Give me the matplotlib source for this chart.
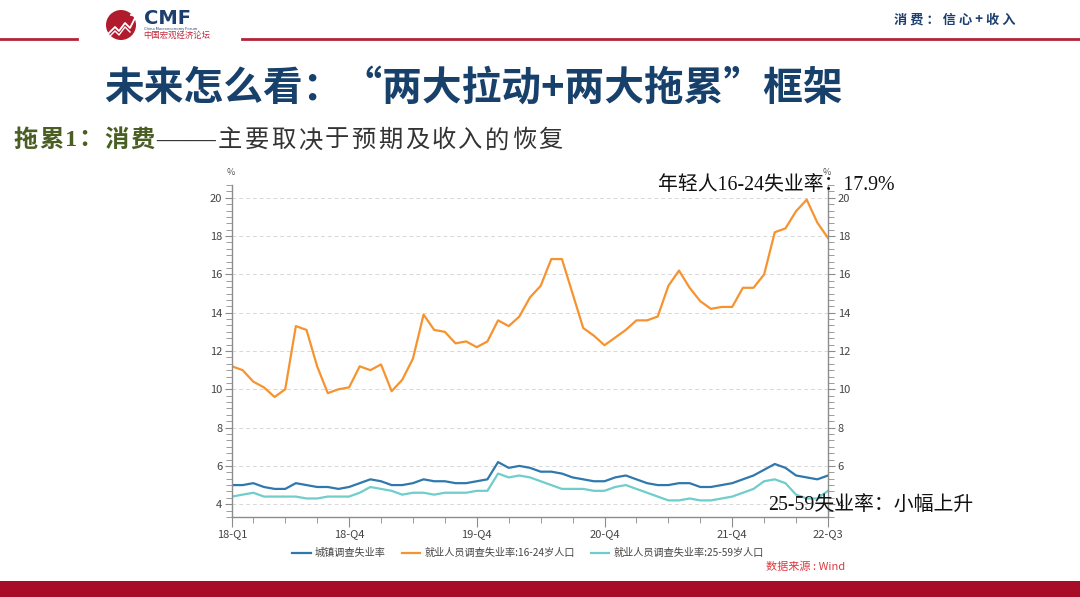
import numpy as np
import pandas as pd
import matplotlib
matplotlib.use("Agg")
import matplotlib.pyplot as plt
from matplotlib.patches import Circle, Rectangle
from matplotlib.ticker import FixedLocator, MultipleLocator

plt.rcParams['font.family'] = ['Noto Sans CJK SC', 'DejaVu Sans']

# data, monthly 2018-01 .. 2022-09 (%)
months = pd.period_range('2018-01', '2022-09', freq='M')
urban = [5.0, 5.0, 5.1, 4.9, 4.8, 4.8, 5.1, 5.0, 4.9, 4.9, 4.8, 4.9,
         5.1, 5.3, 5.2, 5.0, 5.0, 5.1, 5.3, 5.2, 5.2, 5.1, 5.1, 5.2,
         5.3, 6.2, 5.9, 6.0, 5.9, 5.7, 5.7, 5.6, 5.4, 5.3, 5.2, 5.2,
         5.4, 5.5, 5.3, 5.1, 5.0, 5.0, 5.1, 5.1, 4.9, 4.9, 5.0, 5.1,
         5.3, 5.5, 5.8, 6.1, 5.9, 5.5, 5.4, 5.3, 5.5]
youth = [11.2, 11.0, 10.4, 10.1, 9.6, 10.0, 13.3, 13.1, 11.2, 9.8, 10.0, 10.1,
         11.2, 11.0, 11.3, 9.9, 10.5, 11.6, 13.9, 13.1, 13.0, 12.4, 12.5, 12.2,
         12.5, 13.6, 13.3, 13.8, 14.8, 15.4, 16.8, 16.8, 15.0, 13.2, 12.8, 12.3,
         12.7, 13.1, 13.6, 13.6, 13.8, 15.4, 16.2, 15.3, 14.6, 14.2, 14.3, 14.3,
         15.3, 15.3, 16.0, 18.2, 18.4, 19.3, 19.9, 18.7, 17.9]
prime = [4.4, 4.5, 4.6, 4.4, 4.4, 4.4, 4.4, 4.3, 4.3, 4.4, 4.4, 4.4,
         4.6, 4.9, 4.8, 4.7, 4.5, 4.6, 4.6, 4.5, 4.6, 4.6, 4.6, 4.7,
         4.7, 5.6, 5.4, 5.5, 5.4, 5.2, 5.0, 4.8, 4.8, 4.8, 4.7, 4.7,
         4.9, 5.0, 4.8, 4.6, 4.4, 4.2, 4.2, 4.3, 4.2, 4.2, 4.3, 4.4,
         4.6, 4.8, 5.2, 5.3, 5.1, 4.5, 4.3, 4.3, 4.7]
series_names = ['城镇调查失业率', '就业人员调查失业率:16-24岁人口', '就业人员调查失业率:25-59岁人口']
series_colors = ['#2f78ad', '#f7932f', '#6fcdcb']
label_months = ['2018-01', '2018-12', '2019-12', '2020-12', '2021-12', '2022-09']
tick_labels = ['18-Q1', '18-Q4', '19-Q4', '20-Q4', '21-Q4', '22-Q3']

W, H = 1080, 597
fig = plt.figure(figsize=(W / 100, H / 100), dpi=100)
fig.patch.set_facecolor('white')


def spaced(x, y, s, adv, **kw):
    # letter-spaced text, one char at a time (x, y in pixels from top-left)
    for ch in s:
        fig.text(x / W, 1 - y / H, ch, va='center', **kw)
        x += adv * (0.5 if ord(ch) < 128 else 1.0)


# page decoration in pixel coords
bg = fig.add_axes([0, 0, 1, 1], zorder=0)
bg.set_xlim(0, W)
bg.set_ylim(H, 0)
bg.axis('off')
red = '#b3243b'
bg.plot([0, 77], [39, 39], color=red, lw=2)
bg.plot([242, W], [39, 39], color=red, lw=2)
bg.add_patch(Rectangle((0, 581), W, 16, color='#a80c28', lw=0))
bg.add_patch(Circle((121, 25), 15, color='#b01c2e', lw=0))
bg.plot([109, 115, 119, 125, 130, 136], [33, 27, 31, 23, 28, 16], color='white', lw=1.3)
bg.plot([109, 115, 119, 125, 130], [37, 31, 35, 27, 32], color='white', lw=1.0)
bg.plot([131, 136, 137], [15, 16, 21], color='white', lw=1.3)

fig.text(144 / W, 1 - 18 / H, 'CMF', fontsize=14, fontweight='bold', color='#1d3f6e',
         va='center', family='DejaVu Sans')
fig.text(144 / W, 1 - 29 / H, 'China Macroeconomy Forum', fontsize=2.8, color='#1d3f6e', va='center')
fig.text(143 / W, 1 - 35.5 / H, '中国宏观经济论坛', fontsize=6, color='#c0283a', va='center')
fig.text(1016 / W, 1 - 20 / H, '消 费 ： 信 心 + 收 入', fontsize=9.5, fontweight='bold',
         color='#1d3f6e', ha='right', va='center')

fig.text(104 / W, 1 - 88 / H, '未来怎么看：“两大拉动+两大拖累”框架', fontsize=28.6,
         fontweight='bold', color='#17406a', va='center')

serif_mix = ['Liberation Serif', 'Noto Sans CJK SC']
spaced(13, 141, '拖累1：消费', 26, fontsize=17.5, fontweight='bold', color='#4a5e23', family=serif_mix)
fig.text(156 / W, 1 - 142 / H, '——', fontsize=21.5, color='#333333', va='center', family=serif_mix)
spaced(218, 141, '主要取决于预期及收入的恢复', 26.7, fontsize=17.5, color='#333333', family=serif_mix)

# chart
ax = fig.add_axes([232 / W, (H - 517) / H, 596 / W, 332 / H], zorder=2)
ax.set_facecolor('none')
x = np.arange(len(months))
for vals, name, col in zip([urban, youth, prime], series_names, series_colors):
    ax.plot(x, vals, color=col, lw=1.6, label=name)

ax.set_xlim(0, len(months) - 1)
ax.set_ylim(4 - 2 / 3, 20 + 2 / 3)
ax.yaxis.set_major_locator(FixedLocator(np.arange(4, 21, 2)))
ax.yaxis.set_minor_locator(MultipleLocator(1 / 3))
ax.grid(axis='y', which='major', color='#d8d8d8', ls=(0, (4, 3)), lw=0.7)

month_str = [str(m) for m in months]
major_pos = [month_str.index(m) for m in label_months]
quarter_pos = [i for i, m in enumerate(months) if m.month % 3 == 0 and i not in major_pos]
ax.xaxis.set_major_locator(FixedLocator(major_pos))
ax.xaxis.set_minor_locator(FixedLocator(quarter_pos))
ax.set_xticklabels(tick_labels)

axis_col = '#8c8c8c'
for side in ['left', 'right', 'bottom']:
    ax.spines[side].set_color(axis_col)
    ax.spines[side].set_linewidth(1.0)
ax.spines['top'].set_visible(False)
ax.tick_params(axis='y', which='both', left=True, right=True, labelleft=True, labelright=True,
               direction='out', color=axis_col, labelsize=8, labelcolor='#444444', pad=2)
ax.tick_params(axis='y', which='major', length=5)
ax.tick_params(axis='y', which='minor', length=4)
ax.tick_params(axis='x', which='major', length=7, color=axis_col, labelsize=8,
               labelcolor='#444444', pad=1.5)
ax.tick_params(axis='x', which='minor', length=4, color=axis_col)

fig.text(231 / W, 1 - 172 / H, '%', fontsize=6.5, color='#555555', ha='center', va='center')
fig.text(827 / W, 1 - 172 / H, '%', fontsize=6.5, color='#555555', ha='center', va='center')

fig.legend(loc='center', bbox_to_anchor=(528 / W, 1 - 553 / H), ncol=3, frameon=False,
           fontsize=7.3, labelcolor='#444444', handlelength=1.8, handletextpad=0.4,
           columnspacing=1.6)
fig.text(845 / W, 1 - 567 / H, '数据来源 : Wind', fontsize=8, color='#e0383e', ha='right', va='center')

fig.text(658 / W, 1 - 185 / H, '年轻人16-24失业率：17.9%', fontsize=14.3, color='#111111',
         va='center', family=serif_mix, zorder=5)
fig.text(768 / W, 1 - 505 / H, '25-59失业率：小幅上升', fontsize=14.3, color='#111111',
         va='center', family=serif_mix, zorder=5)

fig.savefig('out.png', dpi=100, facecolor='white')
